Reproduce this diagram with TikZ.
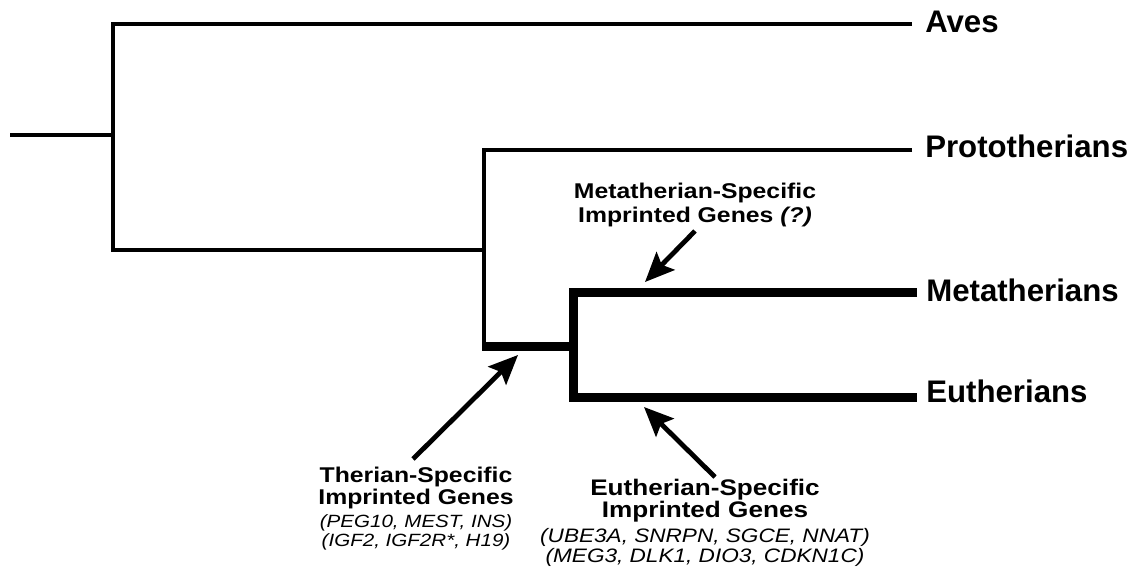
\documentclass[tikz,border=0pt]{standalone}
\usepackage{fontspec}
\setmainfont{Liberation Sans}
\newfontfamily\annotfont[FakeStretch=1.16]{Liberation Sans}
\usetikzlibrary{arrows.meta}
\begin{document}
\begin{tikzpicture}[x=0.75pt,y=-0.75pt,
  thinbr/.style={line width=3pt, line join=miter},
  thickbr/.style={line width=6.75pt, line join=miter},
  taxon/.style={anchor=base west, inner sep=0pt, font=\bfseries\fontsize{23.4}{27}\selectfont},
  pointer/.style={line width=3.6pt, -{Stealth[length=22pt,width=19pt,inset=4pt]}},
  annot/.style={anchor=north, inner sep=0pt, align=center}]
\useasboundingbox (0,0) rectangle (1142,574);
% branch points
\coordinate (root) at (10,135);
\coordinate (n0) at (113,135);
\coordinate (n0top) at (113,24);
\coordinate (n0bot) at (113,250);
\coordinate (n1) at (484,250);
\coordinate (n1top) at (484,150);
\coordinate (n1bot) at (484,346);
\coordinate (n2) at (573,346);
\coordinate (n2top) at (573,292);
\coordinate (n2bot) at (573,397);
\coordinate (avesend) at (912,24);
\coordinate (protoend) at (912,150);
\coordinate (metaend) at (917,292);
\coordinate (euthend) at (917,397);
% taxa
\node[taxon] (aves) at (925,33) {Aves};
\node[taxon] (proto) at (925,158) {Prototherians};
\node[taxon] (meta) at (926,301) {Metatherians};
\node[taxon] (euth) at (926,402) {Eutherians};
% tree
\draw[thinbr] (root) -- (n0);
\draw[thinbr] (avesend) -- (n0top) -- (n0bot) -- (n1);
\draw[thinbr] (protoend) -- (n1top) -- (n1bot);
\draw[thickbr, shorten <=-1.5pt] (n1bot) -- (n2);
\draw[thickbr] (metaend) -- (n2top) -- (n2bot) -- (euthend);
% annotations
\node[annot, font=\annotfont\fontsize{16}{18}\selectfont] (metalab) at (695,183)
  {{\bfseries Metatherian-Specific}\\{\bfseries Imprinted Genes \itshape(?)}};
\node[annot, font=\annotfont\fontsize{16}{16.5}\selectfont] (therlab) at (416,467)
  {{\bfseries Therian-Specific}\\{\bfseries Imprinted Genes}\\[0.75pt]{\itshape\fontsize{13.3}{14}\selectfont (PEG10, MEST, INS)}\\[-2.25pt]{\itshape\fontsize{13.3}{14}\selectfont (IGF2, IGF2R*, H19)}};
\node[annot, font=\annotfont\fontsize{16.9}{15.75}\selectfont] (euthlab) at (705,479)
  {{\bfseries Eutherian-Specific}\\{\bfseries Imprinted Genes}\\[3pt]{\itshape\fontsize{14.6}{15}\selectfont (UBE3A, SNRPN, SGCE, NNAT)}\\[-0.75pt]{\itshape\fontsize{14.6}{15}\selectfont (MEG3, DLK1, DIO3, CDKN1C)}};
% pointers
\coordinate (metatail) at (695,231);
\coordinate (metatip) at (645,282);
\coordinate (thertail) at (413,459);
\coordinate (thertip) at (518,355);
\coordinate (euthtail) at (715,477);
\coordinate (euthtip) at (644,407);
\draw[pointer] (metatail) -- (metatip);
\draw[pointer] (thertail) -- (thertip);
\draw[pointer] (euthtail) -- (euthtip);
\end{tikzpicture}
\end{document}
